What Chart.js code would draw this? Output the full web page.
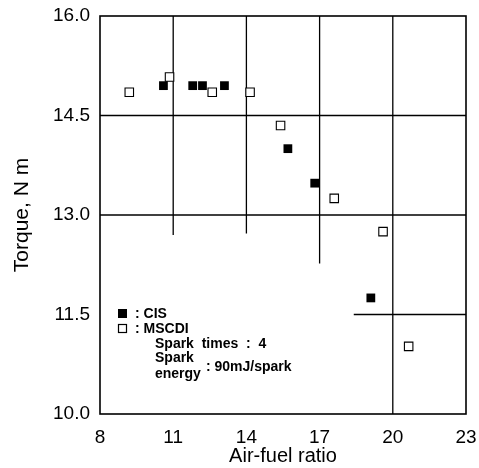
<!DOCTYPE html>
<html>
<head>
<meta charset="utf-8">
<script src="https://cdn.jsdelivr.net/npm/chart.js@4/dist/chart.umd.min.js"></script>
<style>
  html, body { margin: 0; padding: 0; background: #fff; }
  #wrap { width: 479px; height: 468px; }
</style>
</head>
<body>
<div id="wrap"><canvas id="myChart" width="479" height="468"></canvas></div>
<script>
// measured points (air-fuel ratio, torque N m)
const cisAfr = [10.6, 11.8, 12.2, 13.1, 15.7, 16.8, 19.1];
const cisTorque = [14.95, 14.95, 14.95, 14.95, 14.0, 13.48, 11.75];
const mscdiAfr = [9.2, 10.85, 12.6, 14.15, 15.4, 17.6, 19.6, 20.65];
const mscdiTorque = [14.85, 15.08, 14.85, 14.85, 14.35, 13.25, 12.75, 11.02];

const xTicks = [8, 11, 14, 17, 20, 23];
const yTicks = [10.0, 11.5, 13.0, 14.5, 16.0];

// partial grid lines in the original figure
const vGridX = [11, 14, 17, 20];
const vGridLow = [12.7, 12.72, 12.27, 10.0];
const hGridY = [14.5, 13.0, 11.5];
const hGridStart = [8, 8, 18.4];

const legendLines = [': CIS', ': MSCDI', 'Spark  times  :  4', 'Spark', 'energy', ': 90mJ/spark'];

const toPts = (xs, ys) => xs.map((x, i) => ({ x: x, y: ys[i] }));

const gridSets = [];
vGridX.forEach((x, i) => {
  gridSets.push({
    data: [{ x: x, y: 16 }, { x: x, y: vGridLow[i] }],
    showLine: true, borderColor: '#000', borderWidth: 1.3, pointRadius: 0, order: 5
  });
});
hGridY.forEach((y, i) => {
  gridSets.push({
    data: [{ x: hGridStart[i], y: y }, { x: 23, y: y }],
    showLine: true, borderColor: '#000', borderWidth: 1.3, pointRadius: 0, order: 5
  });
});

const frameAndLegend = {
  id: 'frameAndLegend',
  afterDatasetsDraw(chart) {
    const ctx = chart.ctx;
    const a = chart.chartArea;
    ctx.save();
    ctx.strokeStyle = '#000';
    ctx.lineWidth = 1.6;
    ctx.strokeRect(a.left, a.top, a.right - a.left, a.bottom - a.top);

    // legend box inside plot
    const lx = a.left + 18, ly = a.top + 293;
    ctx.fillStyle = '#000';
    ctx.fillRect(lx, ly, 9, 9);
    ctx.lineWidth = 1.2;
    ctx.strokeRect(lx + 0.5, ly + 15.5, 8, 8);
    ctx.font = 'bold 14px "Liberation Sans", Arial, sans-serif';
    ctx.textBaseline = 'middle';
    ctx.fillText(legendLines[0], lx + 17, ly + 5);
    ctx.fillText(legendLines[1], lx + 17, ly + 20);
    ctx.fillText(legendLines[2], lx + 37, ly + 35);
    ctx.fillText(legendLines[3], lx + 37, ly + 49);
    ctx.fillText(legendLines[4], lx + 37, ly + 65);
    ctx.fillText(legendLines[5], lx + 88, ly + 58);
    ctx.restore();
  }
};

new Chart('myChart', {
  type: 'scatter',
  data: {
    datasets: [
      {
        label: 'CIS',
        data: toPts(cisAfr, cisTorque),
        pointStyle: 'rect', pointRadius: 6.2,
        backgroundColor: '#000', borderColor: '#000', borderWidth: 0, order: 1
      },
      {
        label: 'MSCDI',
        data: toPts(mscdiAfr, mscdiTorque),
        pointStyle: 'rect', pointRadius: 6,
        backgroundColor: '#fff', borderColor: '#000', borderWidth: 1.1, order: 1
      }
    ].concat(gridSets)
  },
  options: {
    responsive: false,
    animation: false,
    layout: { padding: { left: 0, right: 13, top: 16, bottom: 0 } },
    plugins: { legend: { display: false }, tooltip: { enabled: false } },
    scales: {
      x: {
        type: 'linear', min: 8, max: 23,
        afterBuildTicks: (s) => { s.ticks = xTicks.map(v => ({ value: v })); },
        afterFit: (s) => { s.height = 54; s.paddingLeft = 0; s.paddingRight = 0; },
        grid: { display: false, drawTicks: false },
        border: { display: false },
        ticks: {
          color: '#000', padding: 12,
          font: { family: '"Liberation Sans", Arial, sans-serif', size: 19 }
        },
        title: {
          display: true, text: 'Air-fuel ratio', color: '#000', padding: { top: 0, bottom: 0 },
          font: { family: '"Liberation Sans", Arial, sans-serif', size: 20 }
        }
      },
      y: {
        type: 'linear', min: 10, max: 16,
        afterBuildTicks: (s) => { s.ticks = yTicks.map(v => ({ value: v })); },
        afterFit: (s) => { s.width = 100; s.paddingTop = 0; s.paddingBottom = 0; },
        grid: { display: false, drawTicks: false },
        border: { display: false },
        ticks: {
          color: '#000', padding: 10,
          callback: (v) => Number(v).toFixed(1),
          font: { family: '"Liberation Sans", Arial, sans-serif', size: 19 }
        },
        title: {
          display: true, text: 'Torque, N m', color: '#000', padding: { top: 10, bottom: 4 },
          font: { family: '"Liberation Sans", Arial, sans-serif', size: 21 }
        }
      }
    }
  },
  plugins: [frameAndLegend]
});
</script>
</body>
</html>
